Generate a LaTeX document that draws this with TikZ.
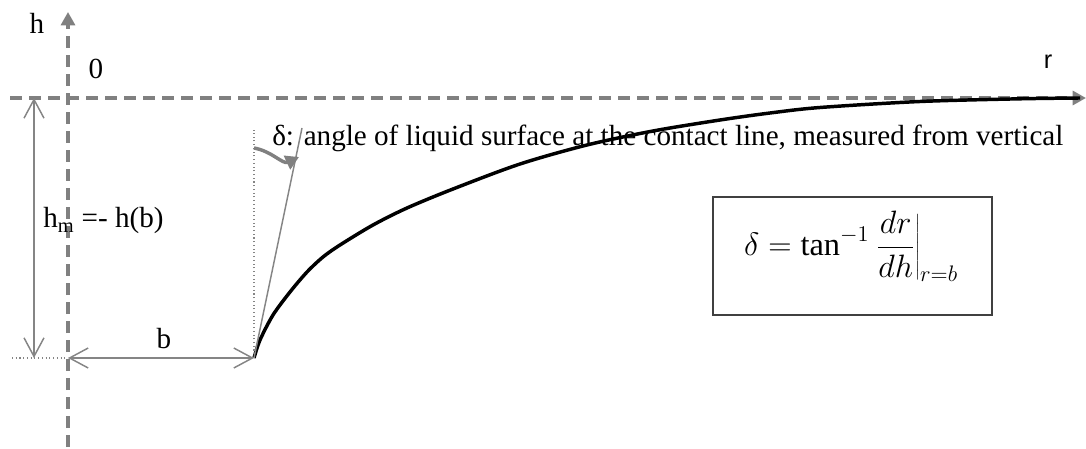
\documentclass[tikz,border=0pt]{standalone}
\usepackage{graphicx}
\usepackage{fontspec}
\setmainfont{Liberation Serif}
\newfontfamily\arialf{Liberation Sans}
\usetikzlibrary{arrows.meta}
\definecolor{axisgray}{HTML}{808080}
\definecolor{dimgray}{HTML}{858585}
\definecolor{boxgray}{HTML}{404040}
\begin{document}
\begin{tikzpicture}[x=0.75pt,y=-0.75pt,
  axisline/.style={draw=axisgray, line width=2.3pt, dash pattern=on 9pt off 5.25pt,
    -{Triangle[length=10pt,width=10.5pt,fill=axisgray]}},
  dimline/.style={draw=dimgray, line width=1.1pt,
    {Straight Barb[length=14pt,width=15pt]}-{Straight Barb[length=14pt,width=15pt]}},
  dotline/.style={draw=dimgray, line width=0.8pt, dotted},
  lbl/.style={font=\fontsize{21.85}{25}\selectfont, inner sep=0pt},
  curve/.style={draw=black, line width=2.6pt},
  tangentline/.style={draw=dimgray, line width=1.1pt},
  anglearrow/.style={draw=axisgray, line width=2.6pt,
    -{Triangle[length=10pt,width=11pt,fill=axisgray]}},
  formulabox/.style={draw=boxgray, line width=1pt, minimum width=209.25pt, minimum height=88.5pt, inner sep=0pt}
]
\useasboundingbox (0,0) rectangle (1086,449);

% coordinates
\coordinate (vbot) at (68,447);
\coordinate (vtop) at (68,12);
\coordinate (hleft) at (10,98);
\coordinate (hright) at (1086,98);
\coordinate (O) at (68,98);
\coordinate (dimtop) at (34,98);
\coordinate (dimbot) at (34,358);
\coordinate (baseleft) at (12,358);
\coordinate (axisbase) at (68,358);
\coordinate (contact) at (254,358);
\coordinate (vertTop) at (254,130);
\coordinate (tanTop) at (302,128);
\coordinate (arcStart) at (254,148);
\coordinate (arcEnd) at (299,157);

% axes
\draw[axisline] (vbot) -- (vtop);
\draw[axisline] (hleft) -- (hright);

% meniscus curve
\draw[curve] plot[smooth, tension=0.5] coordinates {
 (254,358) (260,340) (273,315) (290,292) (307,272) (323,257) (340,245)
 (373,225) (407,208) (453,189) (520,164) (587,145) (653,131) (720,120)
 (770,113) (820,107.5) (920,101.5) (1020,98.8) (1080,98)};

% dimension lines
\draw[dotline] (baseleft) -- (axisbase);
\draw[dimline] (dimtop) -- (dimbot);
\draw[dimline] (axisbase) -- (contact);

% tangent and vertical reference
\draw[dotline] (contact) -- (vertTop);
\draw[tangentline] (contact) -- (tanTop);
\draw[anglearrow] (arcStart) to[out=-10, in=205] (arcEnd);

% labels
\node[lbl] (hlab) at (37,23) {h};
\node[lbl] (zerolab) at (96,69) {0};
\node[font=\arialf\fontsize{19}{22}\selectfont, inner sep=0pt] (rlab) at (1048,62) {r};
\node[lbl, anchor=base west] (hmlab) at (43,228) {h\textsubscript{m} =- h(b)};
\node[lbl] (blab) at (164,339) {b};
\node[lbl, anchor=base west] (deltalab) at (272,146) {δ: angle of liquid surface at the contact line, measured from vertical};

% formula box
\node[formulabox] (box) at (852.5,256) {};
\node[inner sep=0pt, font=\fontsize{20.74}{25}\selectfont] (formula) at (851,246)
  {\scalebox{1.17}{$\displaystyle \delta = \tan^{-1}\left.\frac{dr}{dh}\right|_{r=b}$}};
\end{tikzpicture}
\end{document}
